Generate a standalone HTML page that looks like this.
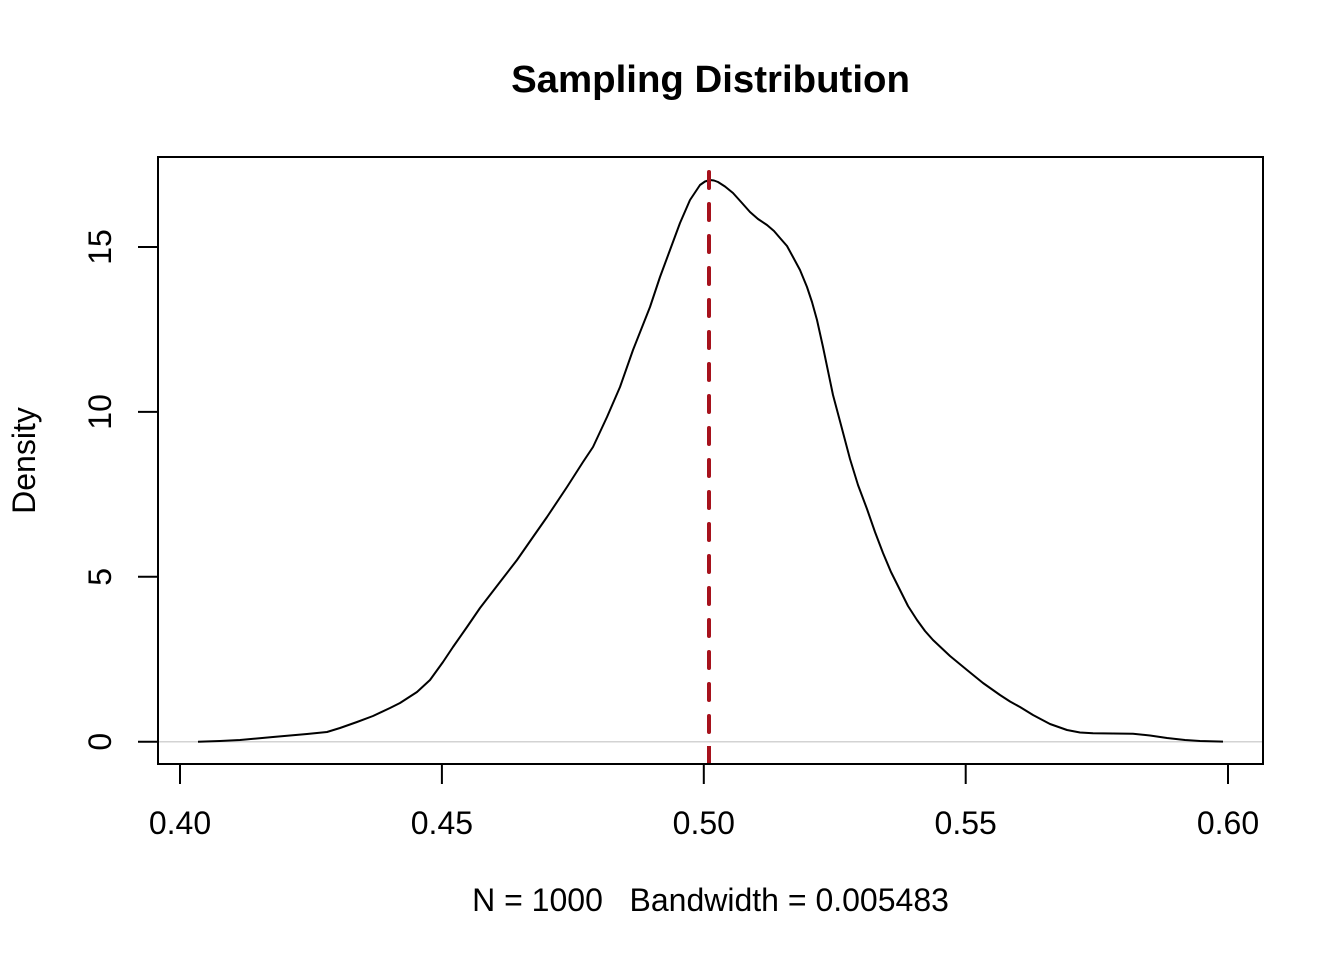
<!DOCTYPE html>
<html>
<head>
<meta charset="utf-8">
<style>
  html, body { margin: 0; padding: 0; background: #ffffff; }
  svg { display: block; }
  text { font-family: "Liberation Sans", Arial, sans-serif; fill: #000; }
</style>
</head>
<body>
<svg width="1344" height="960" viewBox="0 0 1344 960" xmlns="http://www.w3.org/2000/svg">
  <rect x="0" y="0" width="1344" height="960" fill="#ffffff"/>

  <!-- Title -->
  <text x="710.5" y="92" font-size="38.4" font-weight="bold" text-anchor="middle">Sampling Distribution</text>

  <!-- zero reference line -->
  <line x1="158" y1="741.7" x2="1263" y2="741.7" stroke="#d3d3d3" stroke-width="1.5"/>

  <!-- density curve -->
  <polyline fill="none" stroke="#000" stroke-width="2" stroke-linejoin="round" stroke-linecap="butt"
    points="198,741.7 220,741 240,740 273,737 307,734 327,732 340,728 357,722 373,716 390,708 400,703 417,692 430,680 443,662 453,647 467,627 480,608 500,582 517,560 533,537 547,517 567,487 583,462 593,447 607,417 620,387 633,350 650,307 660,277 670,250 680,223 690,200 700,185 705,181.5 710,180 714,180.5 718,182 725,186.5 733,193 742,203 750,212 758,219 767,225 774,231 780,238 787,246 793,257 800,270 807,287 812,302 817,320 823,347 833,395 841,425 850,459 858,485 867,509 875,532 883,553 891,572 900,590 908,606 917,620 925,631 933,640 950,656 967,670 983,683 1000,695 1010,701.5 1020,707 1033,715 1050,724 1067,730 1080,732.5 1093,733.3 1113,733.5 1133,733.8 1150,735.5 1167,738 1185,740 1200,741 1223,741.6"/>

  <!-- red dashed vertical line -->
  <g fill="#a6121c">
    <rect x="707" y="170" width="4" height="20" rx="2"/>
    <rect x="707" y="202" width="4" height="20" rx="2"/>
    <rect x="707" y="234" width="4" height="20" rx="2"/>
    <rect x="707" y="266" width="4" height="20" rx="2"/>
    <rect x="707" y="298" width="4" height="20" rx="2"/>
    <rect x="707" y="330" width="4" height="20" rx="2"/>
    <rect x="707" y="362" width="4" height="20" rx="2"/>
    <rect x="707" y="394" width="4" height="20" rx="2"/>
    <rect x="707" y="426" width="4" height="20" rx="2"/>
    <rect x="707" y="458" width="4" height="20" rx="2"/>
    <rect x="707" y="490" width="4" height="20" rx="2"/>
    <rect x="707" y="522" width="4" height="20" rx="2"/>
    <rect x="707" y="554" width="4" height="20" rx="2"/>
    <rect x="707" y="586" width="4" height="20" rx="2"/>
    <rect x="707" y="618" width="4" height="20" rx="2"/>
    <rect x="707" y="650" width="4" height="20" rx="2"/>
    <rect x="707" y="682" width="4" height="20" rx="2"/>
    <rect x="707" y="714" width="4" height="20" rx="2"/>
    <rect x="707" y="746" width="4" height="18"/>
  </g>

  <!-- plot box -->
  <rect x="158" y="157" width="1105" height="607" fill="none" stroke="#000" stroke-width="2"/>

  <!-- x axis -->
  <g stroke="#000" stroke-width="2">
    <line x1="180" y1="764" x2="1228" y2="764"/>
    <line x1="180" y1="764" x2="180" y2="784"/>
    <line x1="441.9" y1="764" x2="441.9" y2="784"/>
    <line x1="703.8" y1="764" x2="703.8" y2="784"/>
    <line x1="965.7" y1="764" x2="965.7" y2="784"/>
    <line x1="1228" y1="764" x2="1228" y2="784"/>
  </g>
  <g font-size="32" text-anchor="middle">
    <text x="180" y="834">0.40</text>
    <text x="441.9" y="834">0.45</text>
    <text x="703.8" y="834">0.50</text>
    <text x="965.7" y="834">0.55</text>
    <text x="1228" y="834">0.60</text>
  </g>

  <!-- y axis -->
  <g stroke="#000" stroke-width="2">
    <line x1="158" y1="247" x2="158" y2="741.7"/>
    <line x1="138" y1="741.7" x2="158" y2="741.7"/>
    <line x1="138" y1="576.8" x2="158" y2="576.8"/>
    <line x1="138" y1="411.9" x2="158" y2="411.9"/>
    <line x1="138" y1="247" x2="158" y2="247"/>
  </g>
  <g font-size="32" text-anchor="middle">
    <text transform="translate(111,741.7) rotate(-90)">0</text>
    <text transform="translate(111,576.8) rotate(-90)">5</text>
    <text transform="translate(111,411.9) rotate(-90)">10</text>
    <text transform="translate(111,247) rotate(-90)">15</text>
  </g>

  <!-- axis titles -->
  <text transform="translate(35,460.5) rotate(-90)" font-size="32" text-anchor="middle">Density</text>
  <text x="710.5" y="911" font-size="32" text-anchor="middle" xml:space="preserve">N = 1000   Bandwidth = 0.005483</text>
</svg>
</body>
</html>
